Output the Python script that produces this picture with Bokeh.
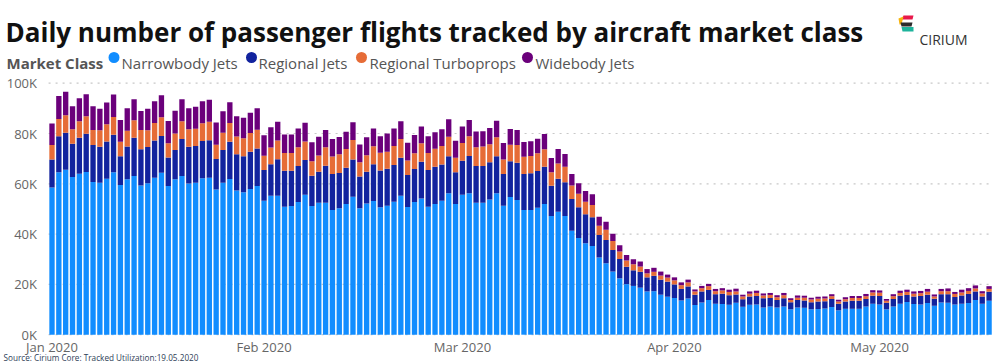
import pandas as pd
from bokeh.plotting import figure
from bokeh.models import Range1d, ColumnDataSource
from bokeh.core.properties import value
from bokeh.embed import file_html
from bokeh.resources import INLINE

# ---------------- data (thousands of flights per day) ----------------
dates = pd.date_range("2020-01-01", "2020-05-17", freq="D")

narrowbody = [
    58.5, 64.6, 65.6, 62.7, 64.0, 64.7, 60.7, 60.4, 62.0, 64.6, 59.5, 61.8, 63.1, 59.3, 60.2, 62.4, 64.4,
    59.1, 61.8, 63.1, 60.1, 60.4, 62.2, 62.4, 57.7, 60.4, 61.9, 57.3, 56.6, 57.9, 59.1, 53.3, 55.2, 55.2,
    50.9, 51.2, 52.8, 55.6, 51.2, 52.5, 52.5, 49.6, 50.3, 52.0, 54.9, 50.3, 52.2, 53.2, 50.7, 51.3, 52.9,
    55.2, 50.8, 52.8, 54.2, 50.9, 52.0, 53.3, 56.2, 52.0, 55.6, 56.2, 52.5, 52.5, 53.8, 56.2, 51.3, 54.8,
    53.6, 49.6, 49.6, 50.5, 52.0, 47.2, 48.9,
    47.2, 41.3, 38.4, 36.4, 35.3, 30.7, 28.4, 25.1, 22.4, 20.1, 19.4, 18.7, 17.2, 17.3, 15.9, 15.1, 14.6,
    13.6, 14.4, 11.8, 12.8, 13.8, 12.3, 12.2, 11.9, 12.7, 11.1, 11.9, 12.0, 10.8, 11.2, 10.8, 11.2, 10.1,
    10.8, 10.7, 10.1, 10.2, 10.4, 11.0, 9.7, 10.3, 10.3, 10.3, 11.2, 12.3, 12.0, 10.1, 11.2, 12.3, 13.0,
    12.2, 12.0, 12.6, 11.5, 12.8, 12.7, 12.0, 12.3, 12.6, 13.8, 12.3, 13.5,
]
regional_jets = [
    11.2, 14.3, 14.7, 13.2, 14.3, 15.2, 14.7, 14.3, 14.8, 14.9, 11.5, 13.0, 15.2, 14.4, 14.4, 14.8, 14.6,
    11.4, 11.6, 14.7, 14.6, 14.6, 14.8, 14.9, 12.2, 13.0, 14.8, 14.4, 14.4, 14.8, 14.9, 12.2, 12.6, 14.6,
    14.3, 14.0, 14.3, 13.9, 12.0, 12.3, 14.7, 14.3, 14.0, 14.4, 14.8, 12.6, 12.6, 14.6, 14.6, 14.7, 14.6,
    15.2, 12.7, 13.1, 14.6, 14.6, 14.8, 14.4, 14.8, 12.6, 13.6, 14.9, 14.6, 14.6, 14.8, 14.8, 12.6, 14.2,
    14.8, 14.3, 14.6, 14.6, 14.8, 12.0, 13.1,
    13.4, 12.7, 12.3, 11.5, 11.4, 8.9, 9.3, 8.6, 7.7, 6.9, 6.2, 6.3, 5.6, 6.1, 6.0, 6.0, 5.4,
    4.6, 4.8, 4.1, 4.4, 4.0, 3.8, 4.1, 3.8, 3.3, 3.0, 3.3, 3.4, 3.7, 3.4, 3.0, 3.3, 2.8,
    3.0, 2.9, 2.8, 3.0, 2.9, 3.2, 2.6, 2.9, 3.2, 3.2, 3.0, 3.2, 3.4, 2.6, 3.0, 3.2, 2.8,
    3.0, 3.4, 3.3, 2.8, 3.3, 3.4, 3.0, 3.3, 3.6, 3.4, 2.9, 3.6,
]
regional_turboprops = [
    5.7, 6.9, 7.0, 5.8, 6.6, 7.0, 6.0, 6.6, 6.9, 7.1, 5.7, 6.3, 7.0, 7.7, 6.7, 7.0, 7.5,
    5.6, 6.6, 7.1, 7.0, 6.9, 7.1, 7.4, 5.6, 6.9, 7.5, 7.1, 7.1, 7.5, 7.5, 5.7, 6.6, 7.4,
    7.0, 7.0, 7.4, 7.3, 5.8, 6.5, 7.3, 7.0, 7.4, 7.4, 7.7, 5.7, 6.6, 7.1, 7.0, 6.7, 7.5,
    7.4, 5.8, 6.2, 7.3, 6.7, 7.1, 7.3, 7.7, 5.8, 7.0, 7.8, 7.4, 7.7, 7.1, 7.5, 5.8, 6.5,
    7.0, 6.9, 6.9, 7.0, 6.9, 5.4, 6.1,
    6.2, 5.3, 5.3, 5.0, 4.9, 3.7, 4.0, 3.6, 3.0, 2.5, 2.4, 2.1, 1.6, 1.6, 1.6, 1.6, 1.6,
    1.5, 1.6, 1.3, 1.3, 1.5, 1.2, 1.3, 1.3, 1.2, 1.1, 1.1, 1.2, 1.1, 1.2, 1.1, 1.2, 0.9,
    0.9, 1.1, 1.1, 1.1, 1.1, 1.1, 0.9, 0.9, 1.1, 1.1, 1.1, 1.3, 1.3, 0.8, 1.1, 1.1, 1.2,
    1.1, 1.1, 1.2, 0.9, 1.2, 1.2, 1.2, 1.2, 1.2, 1.2, 1.2, 1.1,
]
widebody = [
    8.6, 9.1, 9.3, 9.1, 9.1, 8.7, 9.4, 8.5, 8.6, 8.9, 8.7, 8.9, 8.3, 7.5, 8.5, 8.6, 8.7,
    8.9, 9.0, 8.7, 8.3, 8.7, 8.7, 8.7, 8.9, 8.5, 8.2, 8.1, 8.2, 8.1, 8.5, 8.1, 8.1, 7.5,
    7.4, 7.4, 7.5, 7.5, 7.5, 7.4, 6.9, 6.9, 6.9, 6.9, 7.1, 7.0, 7.1, 7.1, 6.6, 7.3, 7.0,
    7.1, 7.0, 7.3, 6.7, 6.7, 6.6, 6.7, 7.0, 6.7, 6.6, 6.5, 6.3, 6.1, 6.5, 6.6, 6.5, 6.3,
    6.0, 5.8, 5.8, 5.8, 6.1, 5.7, 5.7,
    5.0, 4.6, 4.2, 4.2, 4.2, 3.6, 3.2, 2.8, 2.5, 2.2, 2.0, 2.0, 1.7, 1.6, 1.6, 1.2, 1.2,
    1.1, 1.1, 0.8, 0.9, 0.9, 0.9, 0.9, 0.9, 1.1, 0.7, 0.9, 0.9, 0.8, 0.8, 0.8, 0.9, 0.7,
    0.9, 0.8, 0.7, 0.8, 0.8, 0.8, 0.7, 0.8, 0.8, 0.8, 0.9, 0.9, 0.9, 0.7, 0.8, 0.9, 0.9,
    0.9, 0.9, 1.1, 0.8, 0.9, 1.1, 0.8, 1.1, 1.1, 1.2, 0.9, 1.1,
]

series_names = ["Narrowbody Jets", "Regional Jets", "Regional Turboprops", "Widebody Jets"]
series_colors = ["#118DFF", "#12239E", "#E66C37", "#6B007B"]

month_starts = ["2020-01-01", "2020-02-01", "2020-03-01", "2020-04-01", "2020-05-01"]
month_labels = ["Jan 2020", "Feb 2020", "Mar 2020", "Apr 2020", "May 2020"]

y_ticks = [0, 20, 40, 60, 80, 100]
y_tick_labels = ["0K", "20K", "40K", "60K", "80K", "100K"]

title_text = "Daily number of passenger flights tracked by aircraft market class"
legend_title = "Market Class"
source_text = "Source: Cirium Core: Tracked Utilization:19.05.2020"
logo_text = "CIRIUM"

assert len(dates) == len(narrowbody) == len(regional_jets) == len(regional_turboprops) == len(widebody)

# ---------------- layout (page pixels -> data coordinates) ----------------
W, H = 1000, 362                # figure = frame (no side panels); page has no margin
PAGE_X0, PAGE_Y0 = 0, 0
BAR0_PX, BAR_PITCH = 51.5, 6.84 # page x of first bar centre, px per day
ZERO_PY, TOP_PY = 334.2, 82.7   # page y of 0K and 100K

X0 = -(BAR0_PX - PAGE_X0) / BAR_PITCH
X1 = X0 + W / BAR_PITCH
K_PER_PX = 100.0 / (ZERO_PY - TOP_PY)
Y0 = -(PAGE_Y0 + H - ZERO_PY) * K_PER_PX
Y1 = 100.0 + (TOP_PY - PAGE_Y0) * K_PER_PX


def xd(px):
    return X0 + (px - PAGE_X0) / BAR_PITCH


def yd(py):
    return Y1 - (py - PAGE_Y0) * K_PER_PX


n = len(dates)
src = ColumnDataSource({
    "x": list(range(n)),
    series_names[0]: narrowbody,
    series_names[1]: regional_jets,
    series_names[2]: regional_turboprops,
    series_names[3]: widebody,
})

p = figure(width=W, height=H, output_backend="svg", toolbar_location=None,
           x_range=Range1d(X0, X1), y_range=Range1d(Y0, Y1),
           x_axis_location=None, y_axis_location=None, title=None,
           min_border=0)
p.outline_line_color = None
p.background_fill_color = "white"
p.border_fill_color = "white"
p.xgrid.visible = False
p.ygrid.visible = False

FONT = value("Open Sans")

# gridlines (dotted)
p.segment(x0=[-0.5] * len(y_ticks), x1=[n - 0.5 - 0.3] * len(y_ticks),
          y0=y_ticks, y1=y_ticks, line_color="#C8C8C8", line_width=1.2,
          line_dash="2 5")

# stacked bars
p.vbar_stack(series_names, x="x", width=0.78, color=series_colors, source=src,
             line_color=None)

# y tick labels
p.text(x=[xd(36.5)] * len(y_ticks), y=y_ticks, text=y_tick_labels,
       text_font=FONT, text_font_size="13px", text_color="#666666",
       text_align="right", text_baseline="middle")

# x tick labels (month starts)
month_idx = [int((pd.Timestamp(m) - dates[0]).days) for m in month_starts]
p.text(x=month_idx, y=[yd(346.5)] * len(month_idx), text=month_labels,
       text_font=FONT, text_font_size="13px", text_color="#666666",
       text_align="center", text_baseline="middle")

# title
p.text(x=[xd(5)], y=[yd(31.7)], text=[title_text], text_font=FONT,
       text_font_style="bold", text_font_size="26px", text_color="#111111",
       text_align="left", text_baseline="alphabetic")

# legend
legend_circle_x = [113.5, 251, 361, 527]
legend_text_x = [121, 258, 369, 535]
p.text(x=[xd(6)], y=[yd(62.3)], text=[legend_title], text_font=FONT,
       text_font_style="bold", text_font_size="15px", text_color="#555555",
       text_align="left", text_baseline="alphabetic")
p.scatter(x=[xd(v) for v in legend_circle_x], y=[yd(57)] * 4, marker="circle",
          size=11, fill_color=series_colors, line_color=None)
p.text(x=[xd(v) for v in legend_text_x], y=[yd(62.3)] * 4, text=series_names,
       text_font=FONT, text_font_size="15px", text_color="#555555",
       text_align="left", text_baseline="alphabetic")

# source note
p.text(x=[xd(3)], y=[yd(357.3)], text=[source_text], text_font=FONT,
       text_font_size="8.2px", text_color="#2E4057", text_align="left",
       text_baseline="alphabetic")

# logo
logo_xs = [[903, 913, 912, 901], [898, 903, 901, 899], [900, 912, 911, 901], [901, 913, 913, 902]]
logo_ys = [[15, 15, 19, 19], [18, 16, 24, 24], [22, 22, 26, 26], [26.5, 26.5, 31, 31]]
logo_cols = ["#E8194B", "#F6B40E", "#2B2B2B", "#1DB39B"]
p.patches(xs=[[xd(v) for v in xs] for xs in logo_xs],
          ys=[[yd(v) for v in ys] for ys in logo_ys],
          fill_color=logo_cols, line_color=None)
p.text(x=[xd(919)], y=[yd(38.5)], text=[logo_text], text_font=FONT,
       text_font_size="14px", text_color="#333333", text_align="left",
       text_baseline="alphabetic")

open("out.html", "w").write(file_html(p, INLINE))
